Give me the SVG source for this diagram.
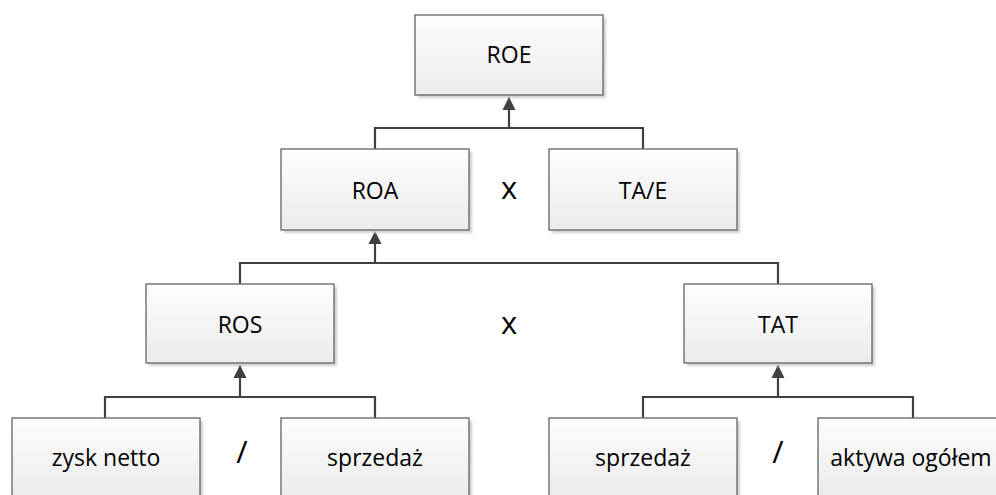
<svg xmlns="http://www.w3.org/2000/svg" width="996" height="495" viewBox="0 0 996 495">
<defs>
<linearGradient id="g" x1="0" y1="0" x2="0" y2="1">
<stop offset="0" stop-color="#fdfdfd"/>
<stop offset="1" stop-color="#ebebeb"/>
</linearGradient>
<filter id="sh" x="-10%" y="-10%" width="130%" height="130%">
<feGaussianBlur stdDeviation="1"/>
</filter>
<marker id="arr" viewBox="0 0 10 10" refX="10" refY="5" markerWidth="6" markerHeight="6" orient="auto" markerUnits="strokeWidth">
<path d="M0,0 L10,5 L0,10 z" fill="#404040"/>
</marker>
<style>
.box{fill:url(#g);stroke:#6e6e6e;stroke-width:1.4}
.shadow{fill:#cfcfcf;filter:url(#sh)}
.lbl{font-family:"Open Sans","Noto Sans",sans-serif;font-size:23px;fill:#000;text-anchor:middle}
.op{font-family:"Open Sans","Noto Sans",sans-serif;font-size:31px;fill:#000;text-anchor:middle}
.conn{fill:none;stroke:#404040;stroke-width:2.2}
</style>
</defs>
<rect width="996" height="495" fill="#fff"/>
<g id="connectors">
<path class="conn" d="M375,149 V128 H643 V149"/>
<path class="conn" d="M509,128 V97" marker-end="url(#arr)"/>
<path class="conn" d="M240,284 V263 H778 V284"/>
<path class="conn" d="M375,263 V231" marker-end="url(#arr)"/>
<path class="conn" d="M105,418 V397 H375 V418"/>
<path class="conn" d="M240,397 V365" marker-end="url(#arr)"/>
<path class="conn" d="M643,418 V397 H913 V418"/>
<path class="conn" d="M778,397 V365" marker-end="url(#arr)"/>
</g>
<g id="ROE">
<rect class="shadow" x="418" y="18" width="188" height="80"/>
<rect class="box" x="415" y="15" width="188" height="80"/>
<text class="lbl" x="509" y="63">ROE</text>
</g>
<g id="ROA">
<rect class="shadow" x="284" y="152" width="188" height="81"/>
<rect class="box" x="281" y="149" width="188" height="81"/>
<text class="lbl" x="375" y="199">ROA</text>
</g>
<g id="TAE">
<rect class="shadow" x="552" y="152" width="188" height="81"/>
<rect class="box" x="549" y="149" width="188" height="81"/>
<text class="lbl" x="643" y="199">TA/E</text>
</g>
<g id="ROS">
<rect class="shadow" x="149" y="287" width="188" height="79"/>
<rect class="box" x="146" y="284" width="188" height="79"/>
<text class="lbl" x="240" y="333">ROS</text>
</g>
<g id="TAT">
<rect class="shadow" x="687" y="287" width="188" height="79"/>
<rect class="box" x="684" y="284" width="188" height="79"/>
<text class="lbl" x="778" y="333">TAT</text>
</g>
<g id="zysk">
<rect class="shadow" x="15" y="421" width="188" height="80"/>
<rect class="box" x="12" y="418" width="188" height="80"/>
<text class="lbl" x="106" y="466">zysk netto</text>
</g>
<g id="sprzedaz1">
<rect class="shadow" x="284" y="421" width="188" height="80"/>
<rect class="box" x="281" y="418" width="188" height="80"/>
<text class="lbl" x="375" y="466">sprzedaż</text>
</g>
<g id="sprzedaz2">
<rect class="shadow" x="552" y="421" width="188" height="80"/>
<rect class="box" x="549" y="418" width="188" height="80"/>
<text class="lbl" x="643" y="466">sprzedaż</text>
</g>
<g id="aktywa">
<rect class="shadow" x="821" y="421" width="188" height="80"/>
<rect class="box" x="818" y="418" width="188" height="80"/>
<text class="lbl" x="911" y="466">aktywa ogółem</text>
</g>
<g id="operators">
<text class="op" x="509" y="199">x</text>
<text class="op" x="509" y="334">x</text>
<text class="op" x="242" y="463">/</text>
<text class="op" x="778" y="463">/</text>
</g>
</svg>
